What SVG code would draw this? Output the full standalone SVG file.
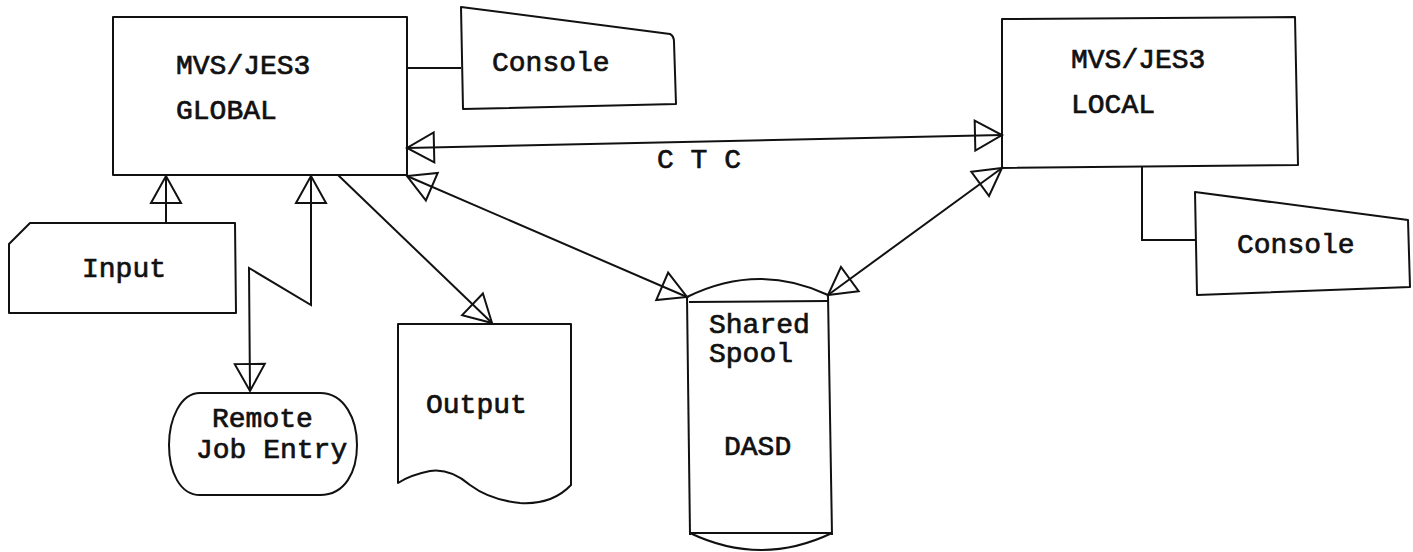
<svg xmlns="http://www.w3.org/2000/svg" width="1413" height="552" viewBox="0 0 1413 552">
<style>
.shape{fill:none;stroke:#111;stroke-width:2;stroke-linejoin:round}
.conn{fill:none;stroke:#111;stroke-width:2}
.arrow{marker-end:url(#arr)}
.both{marker-start:url(#arr);marker-end:url(#arr)}
text{font-family:"Liberation Mono","Courier New",monospace;font-size:28px;font-weight:normal;fill:#111;stroke:#111;stroke-width:0.7}
</style>
<defs>
<marker id="arr" markerUnits="userSpaceOnUse" viewBox="-2 -2 32 32" refX="27" refY="15" markerWidth="32" markerHeight="32" orient="auto-start-reverse" overflow="visible">
<path d="M0,0 L27,15 L0,30 Z" fill="none" stroke="#111" stroke-width="2" stroke-linejoin="miter"/>
</marker>
</defs>
<rect width="1413" height="552" fill="#fff"/>
<g id="connectors">
<path class="conn" d="M407,68 L461,68"/>
<path class="conn" d="M1142,166 L1142,240 L1196,240"/>
<path class="conn both" d="M407,148 L1002,135"/>
<path class="conn both" d="M407,176 L687,297"/>
<path class="conn both" d="M828,295 L1002,168"/>
<path class="conn arrow" d="M338,175 L492,323"/>
<path class="conn arrow" d="M166,223 L166,176"/>
<path class="conn both" d="M311,176 L311,305 L249,268 L250,391"/>
<text x="657" y="168">C T C</text>
</g>
<g id="global">
<rect class="shape" x="113" y="17" width="294" height="158"/>
<text x="176" y="74">MVS/JES3</text>
<text x="176" y="119">GLOBAL</text>
</g>
<g id="console-global">
<path class="shape" d="M461,7 L670,34 Q674,36 674,42 L676,104 L463,109 Z"/>
<text x="492" y="71">Console</text>
</g>
<g id="local">
<path class="shape" d="M1002,19 L1295,17 L1298,165 L1002,168 Z"/>
<text x="1071" y="68">MVS/JES3</text>
<text x="1071" y="113">LOCAL</text>
</g>
<g id="console-local">
<path class="shape" d="M1195,192 L1408,220 L1410,287 L1197,295 Z"/>
<text x="1237" y="253">Console</text>
</g>
<g id="input">
<path class="shape" d="M30,223 L235,223 L236,313 L9,313 L9,244 Z"/>
<text x="82" y="277">Input</text>
</g>
<g id="rje">
<path class="shape" d="M200,393 L320,393 C345,393 357,420 357,445 C357,472 345,495 320,495 L200,495 C180,495 169,472 169,445 C169,420 180,393 200,393 Z"/>
<text x="212" y="427">Remote</text>
<text x="196" y="458">Job Entry</text>
</g>
<g id="output">
<path class="shape" d="M398,324 L571,324 L571,485 Q552,505 520,503 Q490,500 470,485 Q450,468 430,471 Q410,475 398,483 Z"/>
<text x="426" y="413">Output</text>
</g>
<g id="dasd">
<path class="shape" d="M687,297 Q758,262 828,295"/>
<path class="shape" d="M689,302 L828,301"/>
<path class="shape" d="M687,297 L690,535"/>
<path class="shape" d="M828,295 L832,535"/>
<path class="shape" d="M690,533 L832,533"/>
<path class="shape" d="M690,533 Q761,567 832,533"/>
<text x="709" y="333">Shared</text>
<text x="709" y="362">Spool</text>
<text x="724" y="455">DASD</text>
</g>
</svg>
